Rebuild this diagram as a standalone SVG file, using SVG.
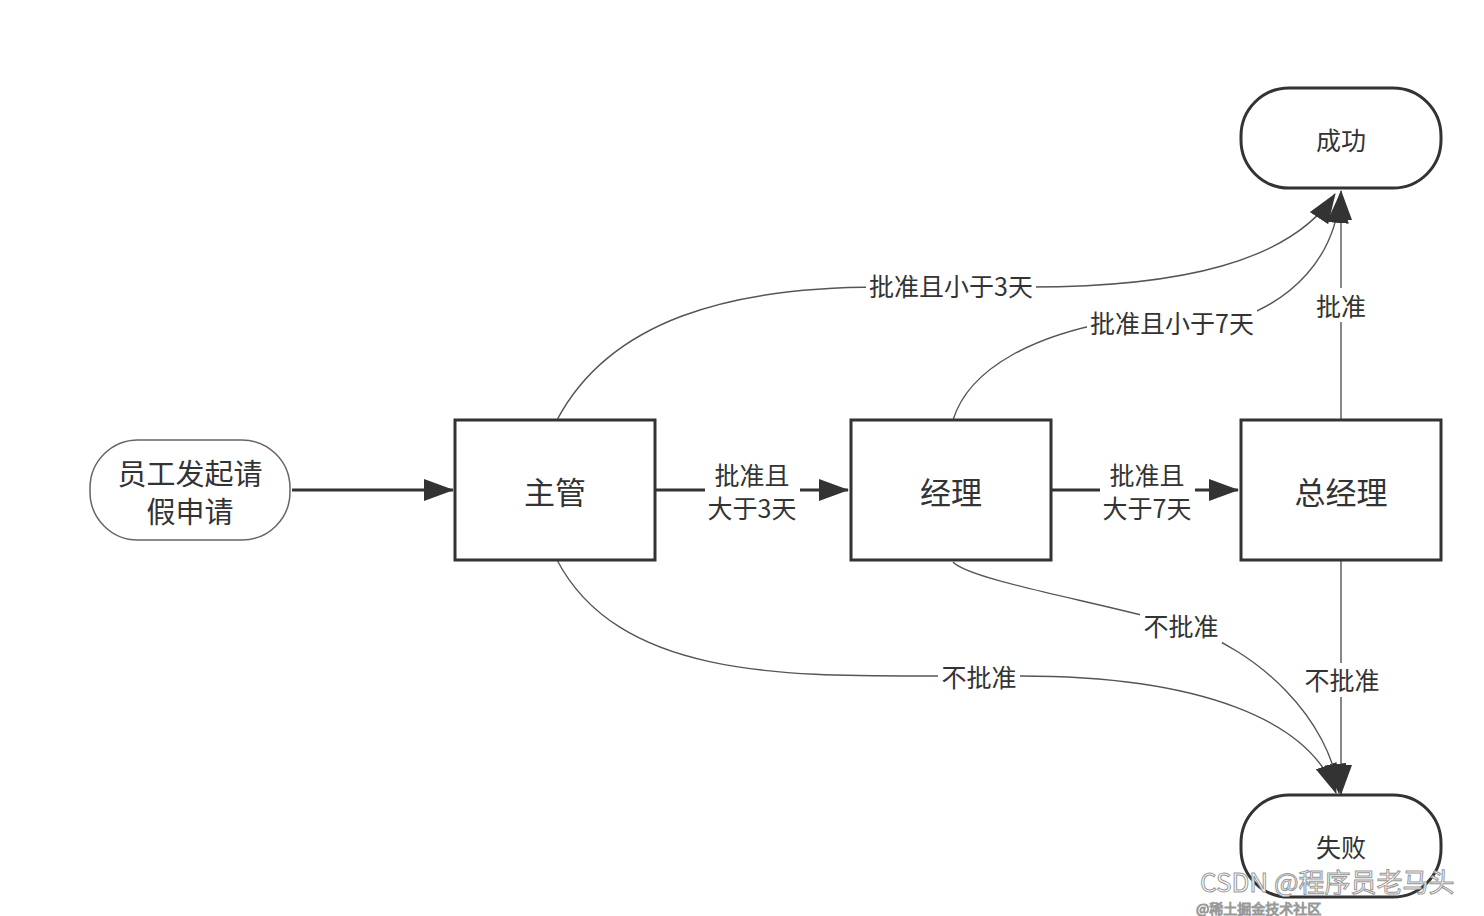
<svg xmlns="http://www.w3.org/2000/svg" width="1484" height="916" viewBox="0 0 1484 916">
<defs>
<style>
.t{font-family:"Noto Sans CJK SC","Liberation Sans",sans-serif;fill:#333;text-anchor:middle;dominant-baseline:central}
.nl{font-size:31px}
.el{font-size:25px}
.box{fill:#fff;stroke:#333;stroke-width:3}
.thin{fill:none;stroke:#555;stroke-width:1.4}
.thick{fill:none;stroke:#333;stroke-width:3}
.bg{fill:#fff}
.wm{font-family:"Noto Sans CJK SC","Liberation Sans",sans-serif;fill:#fff;stroke:#999;stroke-width:1;text-anchor:start}
</style>
<marker id="ah" markerUnits="userSpaceOnUse" markerWidth="30" markerHeight="22" refX="29" refY="11" orient="auto">
<path d="M0,0 L30,11 L0,22 Z" fill="#333"/>
</marker>
</defs>
<rect width="1484" height="916" fill="#fff"/>
<g id="connectors">
<path class="thick" d="M292,490 L453,490" marker-end="url(#ah)"/>
<path class="thick" d="M655,490 L848,490" marker-end="url(#ah)"/>
<path class="thick" d="M1051,490 L1238,490" marker-end="url(#ah)"/>
<path class="thin" d="M1341,420 L1341,191" marker-end="url(#ah)"/>
<path class="thin" d="M1341,560 L1341,794" marker-end="url(#ah)"/>
<path class="thin" d="M557,420 C610,320 730,287 880,287 L1030,287 C1180,287 1290,262 1335,194" marker-end="url(#ah)"/>
<path class="thin" d="M953,420 C970,365 1040,335 1110,322 L1240,318 C1290,300 1335,260 1340,194" marker-end="url(#ah)"/>
<path class="thin" d="M557,560 C620,680 790,676 940,676 L1020,676 C1200,676 1310,720 1336,793" marker-end="url(#ah)"/>
<path class="thin" d="M953,562 C970,580 1090,600 1180,625 C1260,650 1330,720 1339,793" marker-end="url(#ah)"/>
<rect class="bg" x="705" y="456" width="95" height="70"/>
<text class="t el" x="752" y="474">批准且</text>
<text class="t el" x="752" y="507">大于3天</text>
<rect class="bg" x="1100" y="456" width="95" height="70"/>
<text class="t el" x="1147" y="474">批准且</text>
<text class="t el" x="1147" y="507">大于7天</text>
<rect class="bg" x="866" y="270" width="170" height="32"/>
<text class="t el" x="951" y="285">批准且小于3天</text>
<rect class="bg" x="1087" y="305" width="170" height="34"/>
<text class="t el" x="1172" y="322">批准且小于7天</text>
<rect class="bg" x="1313" y="288" width="56" height="34"/>
<text class="t el" x="1341" y="305">批准</text>
<rect class="bg" x="938" y="660" width="82" height="34"/>
<text class="t el" x="979" y="676">不批准</text>
<rect class="bg" x="1140" y="609" width="82" height="34"/>
<text class="t el" x="1181" y="625">不批准</text>
<rect class="bg" x="1301" y="663" width="82" height="34"/>
<text class="t el" x="1342" y="679">不批准</text>
</g>
<g id="start">
<rect x="90" y="440" width="200" height="100" rx="48" ry="48" fill="#fff" stroke="#666" stroke-width="1.5"/>
<text class="t nl" x="190" y="472" style="font-size:29px">员工发起请</text>
<text class="t nl" x="190" y="510" style="font-size:29px">假申请</text>
</g>
<g id="zhuguan">
<rect class="box" x="455" y="420" width="200" height="140"/>
<text class="t nl" x="555" y="490">主管</text>
</g>
<g id="jingli">
<rect class="box" x="851" y="420" width="200" height="140"/>
<text class="t nl" x="951" y="490">经理</text>
</g>
<g id="zongjingli">
<rect class="box" x="1241" y="420" width="200" height="140"/>
<text class="t nl" x="1341" y="490">总经理</text>
</g>
<g id="success">
<rect class="box" x="1241" y="88" width="200" height="100" rx="48" ry="48"/>
<text class="t el" x="1341" y="139">成功</text>
</g>
<g id="fail">
<rect class="box" x="1241" y="795" width="200" height="102" rx="48" ry="48"/>
<text class="t el" x="1341" y="846">失败</text>
</g>
<g id="watermark">
<text class="wm" x="1200" y="892" style="font-size:26px">CSDN @程序员老马头</text>
<text class="wm" x="1196" y="914" style="font-size:14px">@稀土掘金技术社区</text>
</g>
</svg>
